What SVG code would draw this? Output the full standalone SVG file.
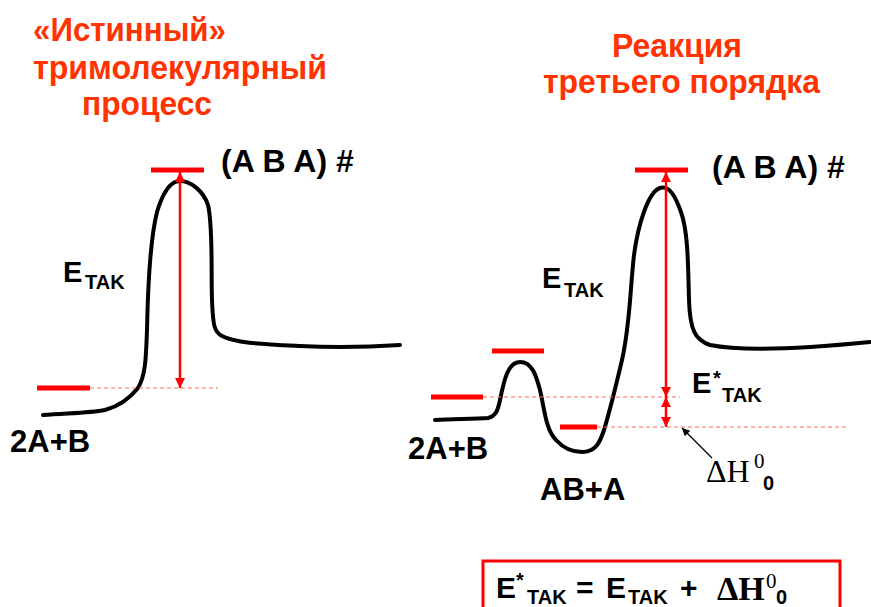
<svg xmlns="http://www.w3.org/2000/svg" width="871" height="607" viewBox="0 0 871 607">
<style>
.title{font-family:"Liberation Sans",Arial,sans-serif;font-weight:bold;font-size:34px;fill:#FF3300}
.lbl{font-family:"Liberation Sans",Arial,sans-serif;font-weight:bold;font-size:30px;fill:#000}
.sub{font-family:"Liberation Sans",Arial,sans-serif;font-weight:bold;font-size:20px;fill:#000}
.ser{font-family:"Liberation Serif","Times New Roman",serif;font-size:32px;fill:#000}
.serb{font-family:"Liberation Serif","Times New Roman",serif;font-weight:bold;font-size:34px;fill:#000}
.sers{font-family:"Liberation Serif","Times New Roman",serif;font-size:21px;fill:#000}
.curve{fill:none;stroke:#000;stroke-width:4;stroke-linecap:round;stroke-linejoin:round}
.lvl{stroke:#FF0000;stroke-width:5}
.dash{stroke:#FF6A5A;stroke-width:1.2;stroke-dasharray:4 3}
.arr{stroke:#FF0000;stroke-width:2.5;fill:none;marker-start:url(#ah);marker-end:url(#ah)}
</style>
<defs>
<marker id="ah" viewBox="0 0 10 10" refX="10" refY="5" markerWidth="4.4" markerHeight="4" orient="auto-start-reverse" markerUnits="strokeWidth">
<path d="M0,0 L10,5 L0,10 Z" fill="#FF0000"/>
</marker>
<marker id="bh" viewBox="0 0 10 10" refX="10" refY="5" markerWidth="8" markerHeight="6" orient="auto" markerUnits="strokeWidth">
<path d="M0,0 L10,5 L0,10 Z" fill="#000"/>
</marker>
</defs>

<g id="title-left">
<text class="title" x="33" y="41" textLength="193" lengthAdjust="spacingAndGlyphs">«Истинный»</text>
<text class="title" x="33" y="79" textLength="294" lengthAdjust="spacingAndGlyphs">тримолекулярный</text>
<text class="title" x="82" y="115" textLength="130" lengthAdjust="spacingAndGlyphs">процесс</text>
</g>
<g id="title-right">
<text class="title" x="612" y="57" textLength="130" lengthAdjust="spacingAndGlyphs">Реакция</text>
<text class="title" x="543" y="93" textLength="277" lengthAdjust="spacingAndGlyphs">третьего порядка</text>
</g>

<g id="connectors">
<path class="curve" d="M43,415 C70,413 90,413 105,410 C120,406 130,398 138,388 C146,375 146,355 147,330 C148,280 150,240 157,212 C163,192 170,181 180,181 C190,181 203,190 208,205 C213,225 211,270 212,300 C213,325 214,332 222,336 C235,343 260,344 300,346 C340,348 370,347 400,345"/>
<path class="curve" d="M435,420 C455,419 475,419 488,418 C496,416 498,410 500,400 C504,380 508,362 520,362 C532,362 536,375 540,390 C545,412 546,430 556,440 C565,450 575,452 582,452 C596,452 600,442 604,430 C610,410 615,390 622,360 C630,325 630,290 634,255 C638,225 648,192 660,188 C670,185 676,198 681,212 C688,232 688,262 689,300 C690,330 695,340 710,345 C740,351 790,350 870,342"/>
<line class="dash" x1="90" y1="388" x2="218" y2="388"/>
<line class="dash" x1="483" y1="397" x2="680" y2="397"/>
<line class="dash" x1="597" y1="427" x2="848" y2="427"/>
<line class="arr" x1="180" y1="172" x2="180" y2="388"/>
<line class="arr" x1="666" y1="172" x2="666" y2="397"/>
<line class="arr" x1="666" y1="397" x2="666" y2="427"/>
<line x1="712" y1="458" x2="682" y2="428" stroke="#000" stroke-width="1.3" marker-end="url(#bh)"/>
</g>

<g id="levels-left">
<line class="lvl" x1="151" y1="170" x2="204" y2="170"/>
<line class="lvl" x1="37" y1="388" x2="90" y2="388"/>
</g>
<g id="levels-right">
<line class="lvl" x1="635" y1="170" x2="688" y2="170"/>
<line class="lvl" x1="492" y1="351" x2="544" y2="351"/>
<line class="lvl" x1="431" y1="397" x2="483" y2="397"/>
<line class="lvl" x1="560" y1="427" x2="597" y2="427"/>
</g>

<g id="labels-left">
<text class="lbl" x="221" y="172" style="font-size:32px">(A B A) #</text>
<text class="lbl" x="63" y="282" style="font-size:29px">E</text><text class="sub" x="85" y="289">TAK</text>
<text class="lbl" x="10" y="452" style="font-size:31px">2A+B</text>
</g>
<g id="labels-right">
<text class="lbl" x="712" y="178" style="font-size:32px">(A B A) #</text>
<text class="lbl" x="542" y="288" style="font-size:29px">E</text><text class="sub" x="564" y="297">TAK</text>
<text class="lbl" x="692" y="393" style="font-size:29px">E</text><text class="sub" x="713" y="385">*</text><text class="sub" x="722" y="402">TAK</text>
<text class="lbl" x="408" y="459" style="font-size:31px">2A+B</text>
<text class="lbl" x="540" y="500" style="font-size:31px">AB+A</text>
<text class="ser" x="706" y="482">ΔH</text><text class="sers" x="754" y="468">0</text><text class="sub" x="763" y="490">0</text>
</g>

<g id="formula">
<rect x="483" y="561" width="357" height="60" fill="none" stroke="#FF0000" stroke-width="3"/>
<text class="lbl" x="496" y="598">E</text><text class="sub" x="516" y="587">*</text><text class="sub" x="527" y="604">TAK</text>
<text class="lbl" x="576" y="598">=</text>
<text class="lbl" x="606" y="598">E</text><text class="sub" x="628" y="604">TAK</text>
<text class="lbl" x="680" y="598">+</text>
<text class="serb" x="717" y="600">ΔH</text><text class="sers" x="766" y="588">0</text><text class="sub" x="776" y="604">0</text>
</g>
</svg>
